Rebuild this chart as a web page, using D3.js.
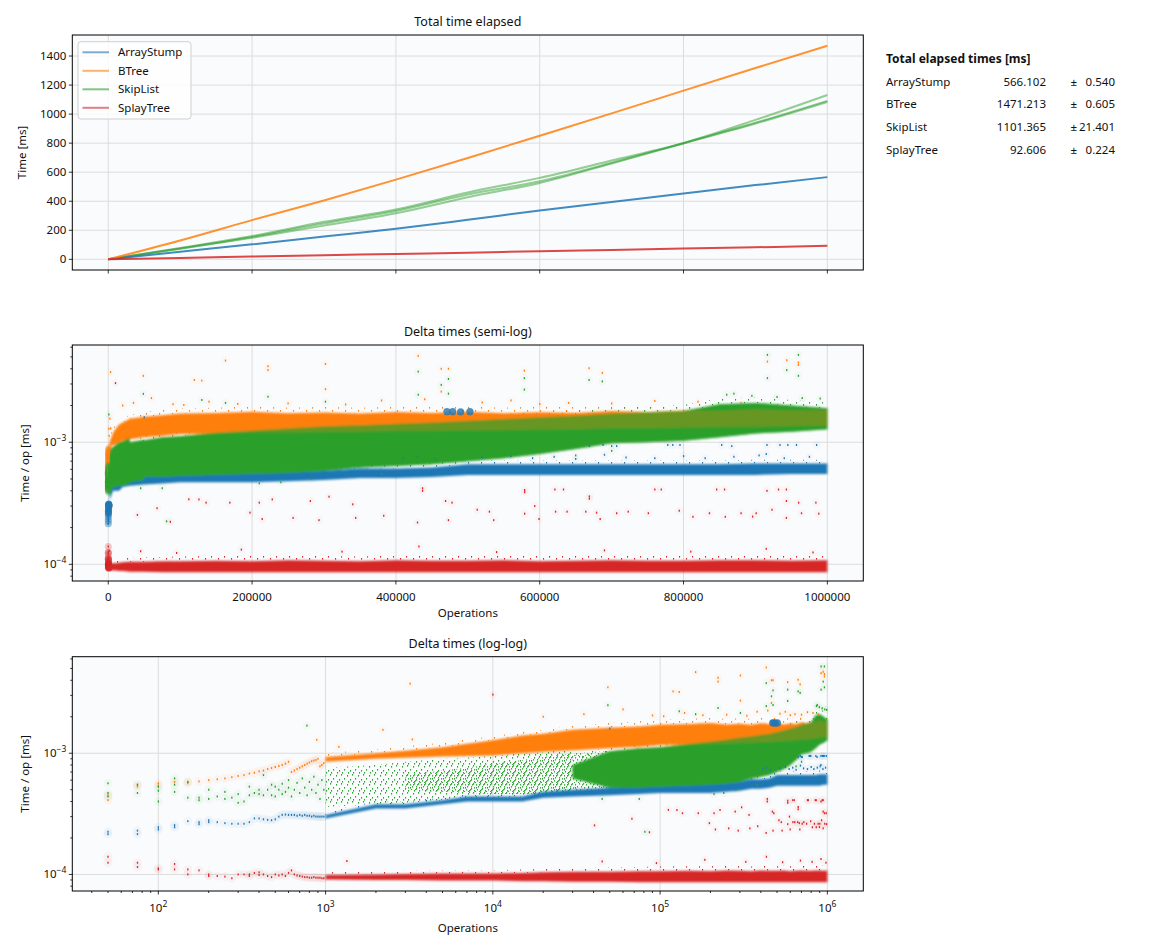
<!DOCTYPE html>
<html><head><meta charset="utf-8">
<script src="https://cdn.jsdelivr.net/npm/d3@7"></script>
<style>
body{margin:0;background:#fff}
text{font-family:'Noto Sans','DejaVu Sans',sans-serif;fill:#111}
</style></head>
<body><svg id="chart" width="1150" height="950"></svg>
<script>
// ---------------- data ----------------
const seriesNames = ["ArrayStump","BTree","SkipList","SplayTree"];
const seriesColors = ["#1f77b4","#ff7f0e","#2ca02c","#d62728"];

// Table of totals
const totalMeans = [566.102, 1471.213, 1101.365, 92.606];
const totalErrs  = [0.540, 0.605, 21.401, 0.224];

// Cumulative time [ms]
const totalOps = [0,100000,200000,300000,400000,500000,600000,700000,800000,900000,1000000];
const arrayStumpTotal = [0,52,103,157,210,272,336,394,453,511,566];
const bTreeTotal      = [0,130,270,405,549,698,851,1005,1162,1317,1471];
const skipListRunA    = [0,78,160,258,343,460,561,680,801,960,1132];
const skipListRunB    = [0,75,154,247,333,446,537,665,800,940,1091];
const skipListRunC    = [0,72,148,232,317,428,526,660,798,935,1084];
const splayTreeTotal  = [0,9,19,28,37,46,56,65,74,83,92.6];

// Delta times: values in units of 1e-3 ms
const bandOps = [1000,2000,3000,5000,7000,10000,15000,20000,30000,50000,75000,100000,150000,200000,250000,300000,350000,400000,450000,500000,550000,600000,650000,700000,750000,800000,850000,900000,950000,1000000];
const arrayStumpLo = [0.29,0.35,0.35,0.38,0.40,0.40,0.40,0.43,0.44,0.45,0.46,0.47,0.47,0.47,0.48,0.49,0.51,0.51,0.52,0.54,0.54,0.54,0.54,0.54,0.54,0.54,0.54,0.54,0.55,0.55];
const arrayStumpHi = [0.31,0.38,0.38,0.41,0.44,0.44,0.44,0.48,0.50,0.52,0.54,0.55,0.56,0.56,0.57,0.58,0.61,0.61,0.62,0.66,0.66,0.66,0.66,0.66,0.66,0.66,0.66,0.67,0.67,0.67];
const arrayStumpFringe = [0.33,0.40,0.40,0.43,0.46,0.46,0.46,0.50,0.53,0.55,0.58,0.60,0.60,0.60,0.61,0.62,0.68,0.68,0.69,0.71,0.71,0.71,0.71,0.71,0.71,0.71,0.71,0.72,0.72,0.72];
const bTreeLo = [0.85,0.90,0.92,0.94,0.95,0.96,1.00,1.03,1.06,1.10,1.13,1.17,1.18,1.20,1.20,1.22,1.22,1.24,1.24,1.25,1.26,1.27,1.28,1.30,1.30,1.32,1.33,1.34,1.36,1.37];
const bTreeHi = [0.93,1.00,1.05,1.12,1.20,1.28,1.40,1.45,1.56,1.62,1.66,1.72,1.74,1.78,1.73,1.75,1.72,1.77,1.74,1.78,1.73,1.76,1.74,1.80,1.77,1.82,1.80,1.86,1.82,1.84];
const bTreeFringe = [1.00,1.08,1.14,1.22,1.30,1.38,1.50,1.56,1.68,1.78,1.84,1.90,1.92,1.96,1.92,1.94,1.92,1.95,1.94,1.96,1.92,1.95,1.94,1.98,1.96,2.00,1.98,2.02,2.00,2.00];
const skipListLo = [null,null,null,null,null,null,null,null,0.62,0.52,0.52,0.53,0.54,0.55,0.56,0.58,0.62,0.64,0.66,0.70,0.74,0.80,0.88,0.98,1.00,1.03,1.10,1.18,1.22,1.28];
const skipListHi = [null,null,null,null,null,null,null,null,0.80,1.04,1.10,1.12,1.20,1.25,1.30,1.35,1.38,1.42,1.45,1.50,1.55,1.60,1.65,1.72,1.76,1.80,2.05,2.10,2.00,1.90];
const skipListFringe = [null,null,null,null,null,null,null,null,0.95,1.14,1.20,1.24,1.32,1.36,1.42,1.46,1.50,1.55,1.58,1.64,1.70,1.76,1.82,1.92,1.96,2.02,2.30,2.32,2.22,2.12];
const skipListMidLo = [null,null,0.50,0.48,0.47,0.46,0.46,0.46,0.47,0.49,null,null,null,null,null,null,null,null,null,null,null,null,null,null,null,null,null,null,null,null];
const skipListMidHi = [null,null,0.66,0.72,0.76,0.82,0.88,0.93,1.00,1.05,null,null,null,null,null,null,null,null,null,null,null,null,null,null,null,null,null,null,null,null];
const skipListSparseLo = [0.36,0.38,0.39,0.41,0.43,0.43,0.44,0.44,0.46,null,null,null,null,null,null,null,null,null,null,null,null,null,null,null,null,null,null,null,null,null];
const skipListSparseHi = [0.76,0.80,0.85,0.90,0.92,0.95,1.00,1.02,1.10,null,null,null,null,null,null,null,null,null,null,null,null,null,null,null,null,null,null,null,null,null];
const splayTreeLo = [0.091,0.090,0.090,0.089,0.089,0.089,0.088,0.088,0.087,0.087,0.086,0.086,0.086,0.086,0.086,0.086,0.086,0.086,0.086,0.086,0.086,0.086,0.086,0.086,0.086,0.086,0.086,0.086,0.086,0.086];
const splayTreeHi = [0.099,0.100,0.101,0.102,0.102,0.102,0.103,0.104,0.105,0.105,0.106,0.106,0.107,0.106,0.108,0.107,0.106,0.108,0.107,0.107,0.108,0.106,0.107,0.108,0.107,0.107,0.108,0.108,0.107,0.108];
const splayTreeFringe = [0.104,0.106,0.107,0.108,0.108,0.108,0.110,0.111,0.113,0.114,0.115,0.116,0.117,0.117,0.118,0.117,0.116,0.118,0.117,0.117,0.118,0.117,0.117,0.118,0.117,0.118,0.119,0.119,0.118,0.119];

// first measurements (ops, value in 1e-3 ms)
const arrayStumpEarly = [[50,0.225],[50,0.215],[75,0.23],[75,0.215],[100,0.245],[100,0.235],[125,0.255],[125,0.245],[150,0.275],[175,0.27],[175,0.26],[200,0.28],[200,0.27],[225,0.27],[250,0.265],[275,0.262],[300,0.262],[325,0.262],[350,0.27],[375,0.29],[400,0.29],[425,0.285],[450,0.282],[475,0.28],[500,0.285],[525,0.3],[550,0.31],[575,0.312],[600,0.31],[625,0.31],[650,0.31],[675,0.305],[700,0.31],[725,0.305],[750,0.31],[775,0.305],[800,0.305],[825,0.3],[850,0.305],[875,0.3],[900,0.3],[925,0.3],[950,0.3],[975,0.3]];
const bTreeEarly = [[50,0.41],[50,0.45],[75,0.55],[75,0.53],[100,0.565],[100,0.54],[125,0.58],[150,0.58],[150,0.565],[175,0.585],[200,0.6],[225,0.61],[250,0.62],[275,0.635],[300,0.65],[325,0.66],[350,0.68],[375,0.69],[400,0.71],[425,0.72],[450,0.74],[475,0.755],[500,0.77],[525,0.785],[550,0.8],[575,0.82],[600,0.85],[625,0.7],[650,0.72],[675,0.74],[700,0.76],[725,0.78],[750,0.8],[775,0.82],[800,0.84],[825,0.86],[850,0.87],[875,0.88],[900,0.9],[925,0.78],[950,0.8],[975,0.83]];
const skipListEarly = [[50,0.565],[50,0.47],[50,0.44],[75,0.55],[75,0.47],[100,0.53],[100,0.49],[100,0.4],[125,0.62],[125,0.55],[125,0.48],[150,0.58],[150,0.43],[175,0.43],[175,0.41],[200,0.5],[200,0.42],[225,0.44],[250,0.48],[250,0.42],[275,0.43],[300,0.46],[300,0.39],[325,0.4],[350,0.45],[350,0.53],[375,0.47],[400,0.46],[400,0.5],[425,0.66],[425,0.45],[450,0.5],[475,0.55],[475,0.45],[500,0.44],[500,0.53],[525,0.5],[550,0.56],[550,0.46],[575,0.48],[600,0.52],[600,0.6],[625,0.44],[650,0.5],[675,0.57],[700,0.47],[725,0.62],[750,0.52],[775,0.45],[800,0.58],[825,0.5],[850,0.64],[875,0.47],[900,0.55],[925,0.42],[950,0.6],[975,0.5]];
const splayTreeEarly = [[50,0.14],[50,0.125],[75,0.125],[75,0.115],[100,0.112],[100,0.11],[125,0.122],[125,0.11],[150,0.11],[150,0.1],[175,0.108],[200,0.1],[200,0.097],[225,0.097],[250,0.096],[275,0.093],[300,0.1],[325,0.1],[350,0.1],[350,0.097],[375,0.103],[400,0.104],[400,0.099],[425,0.1],[450,0.097],[475,0.095],[500,0.1],[525,0.098],[550,0.1],[575,0.097],[600,0.103],[625,0.108],[650,0.1],[675,0.098],[700,0.097],[725,0.096],[750,0.095],[775,0.095],[800,0.094],[825,0.094],[850,0.095],[875,0.094],[900,0.094],[925,0.094],[950,0.093],[975,0.093]];

// outliers (ops, value in 1e-3 ms)
const arrayStumpBlobs = [[471000,1.78],[479000,1.78],[490000,1.77],[503000,1.78]];
const arrayStumpOutliers = [[50000,1.6],[669000,0.93],[688000,0.95],[700000,0.93],[707000,0.93],[778000,0.95],[785000,0.95],[795000,0.95],[853000,0.95],[867000,0.93],[916000,0.95],[934000,0.95],[945000,0.95],[957000,0.95],[985000,0.95],
 [410000,0.74],[430000,0.76],[455000,0.73],[520000,0.75],[560000,0.77],[590000,0.74],[620000,0.76],[650000,0.73],[690000,0.79],[720000,0.75],[760000,0.74],[800000,0.77],[830000,0.74],[870000,0.76],[905000,0.78],[915000,0.8],[940000,0.74],[975000,0.76]];
const bTreeOutliers = [[3200,3.75],[48700,3.5],[119600,3.24],[130000,3.2],[163000,4.67],[222000,4.2],[222000,3.9],[302000,4.38],[302000,2.72],[431000,5.1],[463000,4.0],[473000,4.0],[463000,2.6],[578600,3.86],[668600,4.04],[687000,3.7],[916600,4.58],[943500,4.7],[959700,4.3],[959700,4.5],
 [2200,1.56],[885,1.29],[3300,1.3],[1200,1.13],[20000,2.0],[35000,2.1],[60000,2.3],[90000,2.05],[140000,2.15],[250000,2.08],[380000,2.2],[440000,2.25],[520000,2.12],[560000,2.2],[640000,2.1],[700000,2.08],[760000,2.18],[820000,2.15],[105000,2.02],[180000,2.06],[330000,2.04],[600000,2.06],[880000,2.1]];
const skipListOutliers = [[773,1.69],[48700,2.49],[130000,2.22],[163000,2.1],[222000,2.36],[302000,2.15],[431000,3.79],[431000,2.45],[463000,2.95],[473000,3.3],[473000,2.5],[578600,3.35],[578600,2.7],[668600,3.24],[687000,3.15],[916600,5.2],[916600,3.35],[943500,3.9],[959700,5.2],[959700,3.5],
 [45000,0.42],[75000,0.42],[81000,0.225],[210000,0.46],[240000,0.47],[283000,0.5],[380000,0.55],[650000,0.78],[700000,0.85],[860000,2.45],[870000,2.5],[895000,2.4],[930000,2.35],[965000,2.3],[990000,2.28]];
const splayTreeOutliers = [[10000,3.05],[1340,0.129],[40500,0.254],[67800,0.288],[86300,0.223],[112000,0.341],[126000,0.34],[136000,0.32],[169000,0.32],[197000,0.265],[210000,0.32],[214000,0.235],[228000,0.34],[257000,0.24],[281000,0.33],[293000,0.23],[307000,0.358],[340000,0.31],[344000,0.24],[383000,0.25],[430000,0.22],[437000,0.42],[437000,0.4],[469000,0.33],[478000,0.32],[473000,0.23],[513000,0.28],[530000,0.27],[536000,0.23],[579000,0.406],[579000,0.39],[579000,0.26],[593000,0.3],[599000,0.235],[621000,0.41],[633000,0.41],[622000,0.27],[638000,0.27],[664000,0.27],[669000,0.36],[669000,0.345],[679000,0.265],[684000,0.235],[707000,0.262],[723000,0.27],[751000,0.262],[760000,0.41],[769000,0.41],[794000,0.275],[813000,0.245],[836000,0.262],[846000,0.41],[857000,0.41],[858000,0.245],[880000,0.262],[896000,0.246],[901000,0.262],[916000,0.4],[923000,0.28],[932000,0.41],[943000,0.41],[943000,0.33],[943000,0.24],[960000,0.32],[964000,0.262],[984000,0.32],[988000,0.26],
 [45000,0.128],[95000,0.124],[185000,0.132],[325000,0.127],[432000,0.14],[540000,0.126],[690000,0.13],[810000,0.127],[915000,0.134],[980000,0.125]];

// tick values / labels
const totalXTicks = [0,200000,400000,600000,800000,1000000];
const totalYTicks = [0,200,400,600,800,1000,1200,1400];
const semiXTicks = [0,200000,400000,600000,800000,1000000];
const logYTicks = [1e-4,1e-3];
const logYLabels = ["−4","−3"];
const logXTicks = [1e2,1e3,1e4,1e5,1e6];
const logXLabels = ["2","3","4","5","6"];
const titles = ["Total time elapsed","Delta times (semi-log)","Delta times (log-log)"];

// --------------- layout ---------------
const UNIT = 1e-3;
const L = 72.3, R = 863.3;
const P1 = {top:35, bottom:270};
const P2 = {top:345, bottom:581};
const P3 = {top:656.7, bottom:891};
const svg = d3.select("#chart");
const defs = svg.append("defs");
defs.append("filter").attr("id","soft").attr("x","-5%").attr("y","-20%").attr("width","110%").attr("height","140%")
  .append("feGaussianBlur").attr("stdDeviation",1.1);

function makePattern(id, color, w, h, dots){
  const p = defs.append("pattern").attr("id",id).attr("width",w).attr("height",h).attr("patternUnits","userSpaceOnUse");
  dots.forEach(([dx,dy])=>p.append("rect").attr("x",dx).attr("y",dy).attr("width",1.1).attr("height",1.6).attr("fill",color));
}
const speckle = [[0,0],[7,3],[3,6],[10,8]];
seriesColors.forEach((c,i)=>makePattern("fr"+i, c, 13, 11, speckle));
makePattern("gsparse", seriesColors[2], 11, 9, [[0,0],[6,1],[3,4],[9,5],[1,7],[7,7]]);
makePattern("gmid", seriesColors[2], 11, 9, [[0,0],[3,1],[7,0],[5,3],[9,3],[1,4],[4,6],[8,6],[2,8],[6,8],[10,1]]);

[P1,P2,P3].forEach((p,i)=>{
  defs.append("clipPath").attr("id","clip"+i).append("rect")
    .attr("x",L).attr("y",p.top).attr("width",R-L).attr("height",p.bottom-p.top);
});

const xLin = d3.scaleLinear().domain([-50000,1050000]).range([L,R]);
const yTot = d3.scaleLinear().domain([-73.56,1544.8]).range([P1.bottom,P1.top]);
const ySemi = d3.scaleLog().domain([7.3e-5,6.26e-3]).range([P2.bottom,P2.top]);
const xLog = d3.scaleLog().domain([30.6,1.64e6]).range([L,R]);
const yLL = d3.scaleLog().domain([7.3e-5,6.26e-3]).range([P3.bottom,P3.top]);

const GRID = "#dcdcdc", FACE = "#fafbfd";

function panelFrame(p){
  svg.append("rect").attr("x",L).attr("y",p.top).attr("width",R-L).attr("height",p.bottom-p.top).attr("fill",FACE);
}
function gridX(p, x, vals){
  svg.append("g").selectAll("line").data(vals).join("line")
    .attr("x1",d=>x(d)).attr("x2",d=>x(d)).attr("y1",p.top).attr("y2",p.bottom)
    .attr("stroke",GRID).attr("stroke-width",1);
}
function gridY(p, y, vals){
  svg.append("g").selectAll("line").data(vals).join("line")
    .attr("y1",d=>y(d)).attr("y2",d=>y(d)).attr("x1",L).attr("x2",R)
    .attr("stroke",GRID).attr("stroke-width",1);
}
function border(p){
  svg.append("rect").attr("x",L).attr("y",p.top).attr("width",R-L).attr("height",p.bottom-p.top)
    .attr("fill","none").attr("stroke","#000").attr("stroke-width",1);
}
function xTicks(p, x, vals, len){
  svg.append("g").selectAll("line").data(vals).join("line")
    .attr("x1",d=>x(d)).attr("x2",d=>x(d)).attr("y1",p.bottom).attr("y2",p.bottom+len)
    .attr("stroke","#000").attr("stroke-width",0.8);
}
function yTicks(y, vals, len){
  svg.append("g").selectAll("line").data(vals).join("line")
    .attr("y1",d=>y(d)).attr("y2",d=>y(d)).attr("x1",L-len).attr("x2",L)
    .attr("stroke","#000").attr("stroke-width",0.8);
}
function title(p, t){
  svg.append("text").attr("x",(L+R)/2).attr("y",p.top-9).attr("text-anchor","middle")
    .attr("font-size",12.5).text(t);
}
function yLabel(p, t, xpos){
  svg.append("text").attr("transform",`translate(${xpos},${(p.top+p.bottom)/2}) rotate(-90)`)
    .attr("text-anchor","middle").attr("dominant-baseline","central").attr("font-size",11.5).text(t);
}
function powLabelsY(y, vals, labels){
  vals.forEach((v,i)=>{
    const t = svg.append("text").attr("x",L-6).attr("y",y(v)+4).attr("text-anchor","end").attr("font-size",11.5);
    t.append("tspan").text("10");
    t.append("tspan").attr("dy",-5).attr("font-size",8.5).text(labels[i]);
  });
}
function minorLog(lo, hi){
  const out=[];
  for(let e=Math.floor(Math.log10(lo)); e<=Math.ceil(Math.log10(hi)); e++)
    for(let k=2;k<=9;k++){ const v=k*Math.pow(10,e); if(v>=lo && v<=hi) out.push(v); }
  return out;
}

// ---------------- Panel 1 ----------------
panelFrame(P1);
gridX(P1, xLin, totalXTicks);
gridY(P1, yTot, totalYTicks);
const line1 = d3.line().x((d,i)=>xLin(totalOps[i])).y(d=>yTot(d)).curve(d3.curveMonotoneX);
const g1 = svg.append("g").attr("clip-path","url(#clip0)");
[[skipListRunA,2],[skipListRunB,2],[skipListRunC,2]].forEach(([arr,c])=>{
  g1.append("path").attr("d",line1(arr)).attr("fill","none").attr("stroke",seriesColors[c])
    .attr("stroke-width",2).attr("stroke-opacity",0.5);
});
[[arrayStumpTotal,0],[bTreeTotal,1],[splayTreeTotal,3]].forEach(([arr,c])=>{
  g1.append("path").attr("d",line1(arr)).attr("fill","none").attr("stroke",seriesColors[c])
    .attr("stroke-width",2).attr("stroke-opacity",0.85);
});
border(P1);
xTicks(P1, xLin, totalXTicks, 3.5);
yTicks(yTot, totalYTicks, 3.5);
svg.append("g").selectAll("text").data(totalYTicks).join("text")
  .attr("x",L-6).attr("y",d=>yTot(d)+4).attr("text-anchor","end").attr("font-size",11.5).text(d=>d);
title(P1, titles[0]);
yLabel(P1, "Time [ms]", 21);

// legend
const lg = svg.append("g");
lg.append("rect").attr("x",78).attr("y",41.7).attr("width",113).attr("height",77.3).attr("rx",3)
  .attr("fill","#ffffff").attr("fill-opacity",0.8).attr("stroke","#d0d0d0").attr("stroke-width",1);
seriesNames.forEach((n,i)=>{
  const yy = 52.3 + i*18.5;
  lg.append("line").attr("x1",82.5).attr("x2",109).attr("y1",yy).attr("y2",yy)
    .attr("stroke",seriesColors[i]).attr("stroke-opacity",0.6).attr("stroke-width",2);
  lg.append("text").attr("x",118).attr("y",yy+4).attr("font-size",11.5).text(n);
});

// table
const tb = svg.append("g");
tb.append("text").attr("x",886).attr("y",62.5).attr("font-size",12).attr("font-weight","bold").text("Total elapsed times [ms]");
seriesNames.forEach((n,i)=>{
  const yy = [86.3,107.5,130.8,153.5][i];
  tb.append("text").attr("x",886).attr("y",yy).attr("font-size",11.5).text(n);
  tb.append("text").attr("x",1046).attr("y",yy).attr("font-size",11.5).attr("text-anchor","end").text(totalMeans[i].toFixed(3));
  const e = totalErrs[i].toFixed(3);
  tb.append("text").attr("x",1115).attr("y",yy).attr("font-size",11.5).attr("text-anchor","end")
    .text("±\u2009" + (e.length < 6 ? "\u2007".repeat(6-e.length) : "") + e);
});

// ---------------- scatter panels ----------------
function band(lo, hi){ return bandOps.map((o,i)=>({ops:o, lo:lo[i], hi:hi[i]})); }
const bands = {
  blue: band(arrayStumpLo, arrayStumpHi),
  orange: band(bTreeLo, bTreeHi),
  green: band(skipListLo, skipListHi),
  greenMid: band(skipListMidLo, skipListMidHi),
  greenSparse: band(skipListSparseLo, skipListSparseHi),
  red: band(splayTreeLo, splayTreeHi)
};
const fringes = [
  band(arrayStumpHi, arrayStumpFringe),
  band(bTreeHi, bTreeFringe),
  band(skipListHi, skipListFringe),
  band(splayTreeHi, splayTreeFringe)
];
const earlySets = [arrayStumpEarly, bTreeEarly, skipListEarly, splayTreeEarly];
const outlierSets = [arrayStumpOutliers, bTreeOutliers, skipListOutliers, splayTreeOutliers];

function drawScatter(p, idx, x, y, isLog){
  const g = svg.append("g").attr("clip-path",`url(#clip${idx})`);
  const area = d3.area().defined(d=>d.lo!=null && d.hi!=null)
    .x(d=>x(d.ops)).y0(d=>y(d.lo*UNIT)).y1(d=>y(d.hi*UNIT));
  // halos of first points and outliers
  const halo = g.append("g");
  earlySets.forEach((set,si)=>{
    halo.append("g").selectAll("circle").data(set).join("circle")
      .attr("cx",d=>x(d[0])).attr("cy",d=>y(d[1]*UNIT)).attr("r",isLog?4.5:3.5)
      .attr("fill",seriesColors[si]).attr("fill-opacity",isLog?0.045:0.25);
  });
  outlierSets.forEach((set,si)=>{
    halo.append("g").selectAll("circle").data(set).join("circle")
      .attr("cx",d=>x(d[0])).attr("cy",d=>y(d[1]*UNIT)).attr("r",4)
      .attr("fill",seriesColors[si]).attr("fill-opacity",0.03);
  });
  // speckled fringes above each band
  fringes.forEach((f,si)=>{
    g.append("path").attr("d",area(f)).attr("fill",`url(#fr${si})`);
  });
  if(isLog){
    g.append("path").attr("d",area(bands.greenSparse)).attr("fill","url(#gsparse)");
    g.append("path").attr("d",area(bands.greenMid)).attr("fill","url(#gmid)").attr("fill-opacity",0.9);
  }
  const soft = g.append("g").attr("filter","url(#soft)");
  soft.append("path").attr("d",area(bands.blue)).attr("fill",seriesColors[0]);
  const greenParts = isLog ? [bands.green] : [bands.greenSparse, bands.greenMid, bands.green];
  greenParts.forEach(b=>soft.append("path").attr("d",area(b)).attr("fill",seriesColors[2]));
  soft.append("path").attr("d",area(bands.orange)).attr("fill",seriesColors[1]);
  greenParts.forEach(b=>soft.append("path").attr("d",area(b)).attr("fill",seriesColors[2]).attr("fill-opacity",0.72));
  soft.append("path").attr("d",area(bands.red)).attr("fill",seriesColors[3]);
  // blobs
  g.append("g").selectAll("circle").data(arrayStumpBlobs).join("circle")
    .attr("cx",d=>x(d[0])).attr("cy",d=>y(d[1]*UNIT)).attr("r",3.6)
    .attr("fill",seriesColors[0]).attr("fill-opacity",0.8);
  // points
  [...earlySets.map((s,i)=>[s,i]), ...outlierSets.map((s,i)=>[s,i])].forEach(([set,si])=>{
    g.append("g").selectAll("rect").data(set).join("rect")
      .attr("x",d=>x(d[0])-0.6).attr("y",d=>y(d[1]*UNIT)-1).attr("width",1.3).attr("height",2)
      .attr("fill",seriesColors[si]);
  });
}

// Panel 2
panelFrame(P2);
gridX(P2, xLin, semiXTicks);
gridY(P2, ySemi, logYTicks);
drawScatter(P2, 1, xLin, ySemi, false);
border(P2);
xTicks(P2, xLin, semiXTicks, 3.5);
yTicks(ySemi, logYTicks, 3.5);
yTicks(ySemi, minorLog(7.3e-5,6.26e-3), 2);
svg.append("g").selectAll("text").data(semiXTicks).join("text")
  .attr("x",d=>xLin(d)).attr("y",P2.bottom+20).attr("text-anchor","middle").attr("font-size",11.5).text(d=>d3.format("d")(d));
powLabelsY(ySemi, logYTicks, logYLabels);
title(P2, titles[1]);
yLabel(P2, "Time / op [ms]", 24.5);
svg.append("text").attr("x",(L+R)/2).attr("y",P2.bottom+36).attr("text-anchor","middle").attr("font-size",11.5).text("Operations");

// Panel 3
panelFrame(P3);
gridX(P3, xLog, logXTicks);
gridY(P3, yLL, logYTicks);
drawScatter(P3, 2, xLog, yLL, true);
border(P3);
xTicks(P3, xLog, logXTicks, 3.5);
xTicks(P3, xLog, minorLog(30.6,1.64e6), 2);
yTicks(yLL, logYTicks, 3.5);
yTicks(yLL, minorLog(7.3e-5,6.26e-3), 2);
logXTicks.forEach((v,i)=>{
  const t = svg.append("text").attr("x",xLog(v)).attr("y",P3.bottom+21).attr("text-anchor","middle").attr("font-size",11.5);
  t.append("tspan").text("10");
  t.append("tspan").attr("dy",-5).attr("font-size",8.5).text(logXLabels[i]);
});
powLabelsY(yLL, logYTicks, logYLabels);
title(P3, titles[2]);
yLabel(P3, "Time / op [ms]", 24.5);
svg.append("text").attr("x",(L+R)/2).attr("y",P3.bottom+41).attr("text-anchor","middle").attr("font-size",11.5).text("Operations");
</script></body></html>
